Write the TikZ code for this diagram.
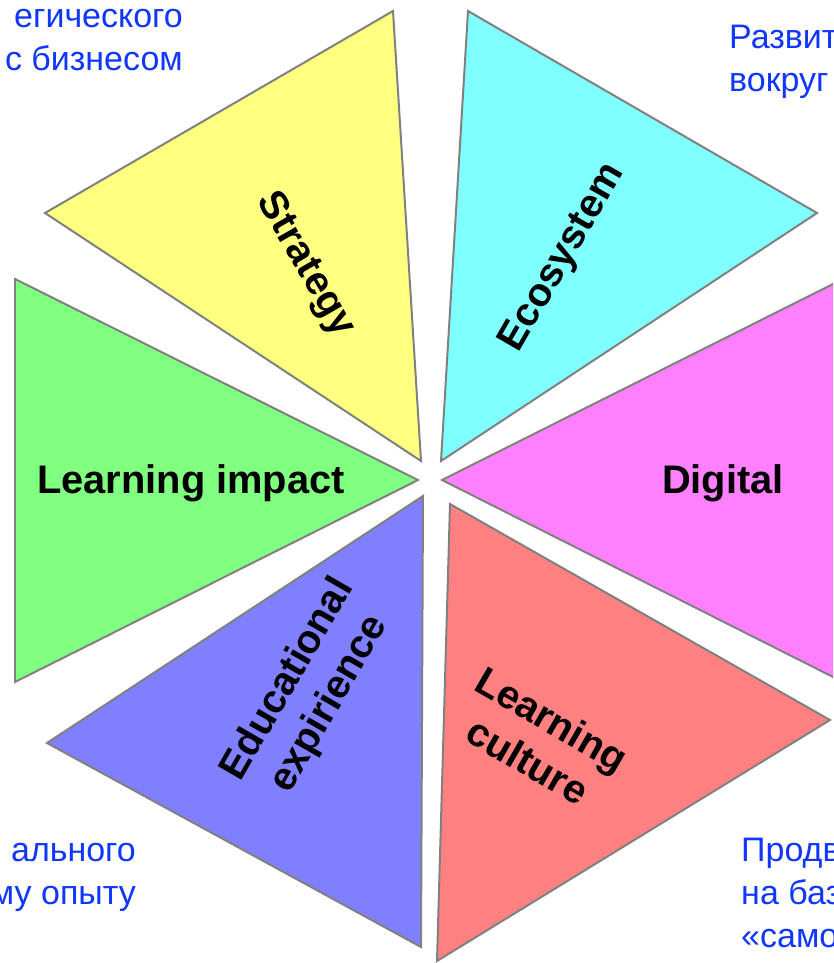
\documentclass[tikz,border=0pt]{standalone}
\usepackage{fontspec}
\setmainfont{Liberation Sans}
\definecolor{noteblue}{RGB}{15,55,255}
\definecolor{edgegray}{RGB}{128,128,128}
\tikzset{
  petal/.style={draw=edgegray, line width=1.7pt, line join=miter},
  petallabel/.style={font=\bfseries\fontsize{34}{41}\selectfont, align=center, inner sep=0pt},
  notetext/.style={font=\fontsize{29}{36.6}\selectfont, text=noteblue, inner sep=0pt}
}

\begin{document}
\begin{tikzpicture}[x=0.03cm, y=-0.03cm]
	%%%%% START %%%%%
	\useasboundingbox (0, 0) rectangle (833, 963);
	\clip (0, 0) rectangle (833, 963);
	
	\draw[petal, fill={rgb,255:red,255;green,255;blue,128}] (393, 11) -- (45, 213) -- (421, 461) -- cycle;
	\draw[petal, fill={rgb,255:red,128;green,255;blue,255}] (468, 11) -- (817, 213) -- (441, 461) -- cycle;
	\draw[petal, fill={rgb,255:red,128;green,255;blue,128}] (15, 279) -- (15, 682) -- (418, 480) -- cycle;
	\draw[petal, fill={rgb,255:red,255;green,128;blue,255}] (847, 277) -- (847, 684) -- (442, 480) -- cycle;
	\draw[petal, fill={rgb,255:red,128;green,128;blue,255}] (423, 496) -- (47, 743) -- (421, 947) -- cycle;
	\draw[petal, fill={rgb,255:red,255;green,128;blue,128}] (450, 504) -- (830, 720) -- (437, 961) -- cycle;
	
	\node[petallabel, rotate=-60] (strategy) at (305, 265) {Strategy};
	\node[petallabel, rotate=60] (ecosystem) at (563, 258) {Ecosystem};
	\node[petallabel] (impact) at (191, 483) {Learning impact};
	\node[petallabel] (digital) at (723, 483) {Digital};
	\node[petallabel, rotate=60] (experience) at (309, 692) {Educational\\expirience};
	\node[petallabel, rotate=-30] (culture) at (540, 740) {Learning\\culture};
	
	\node[notetext, anchor=east, align=right] (topleft) at (183, 40) {егического\\с бизнесом};
	\node[notetext, anchor=west, align=left] (topright) at (729, 62) {Развит\\вокруг};
	\node[notetext, anchor=east, align=right] (bottomleft) at (136, 877) {ального\\му опыту};
	\node[notetext, anchor=west, align=left] (bottomright) at (741, 893) {Продви\\на баз\\«само};
	
	%%%%% END %%%%%
\end{tikzpicture}
\end{document}
